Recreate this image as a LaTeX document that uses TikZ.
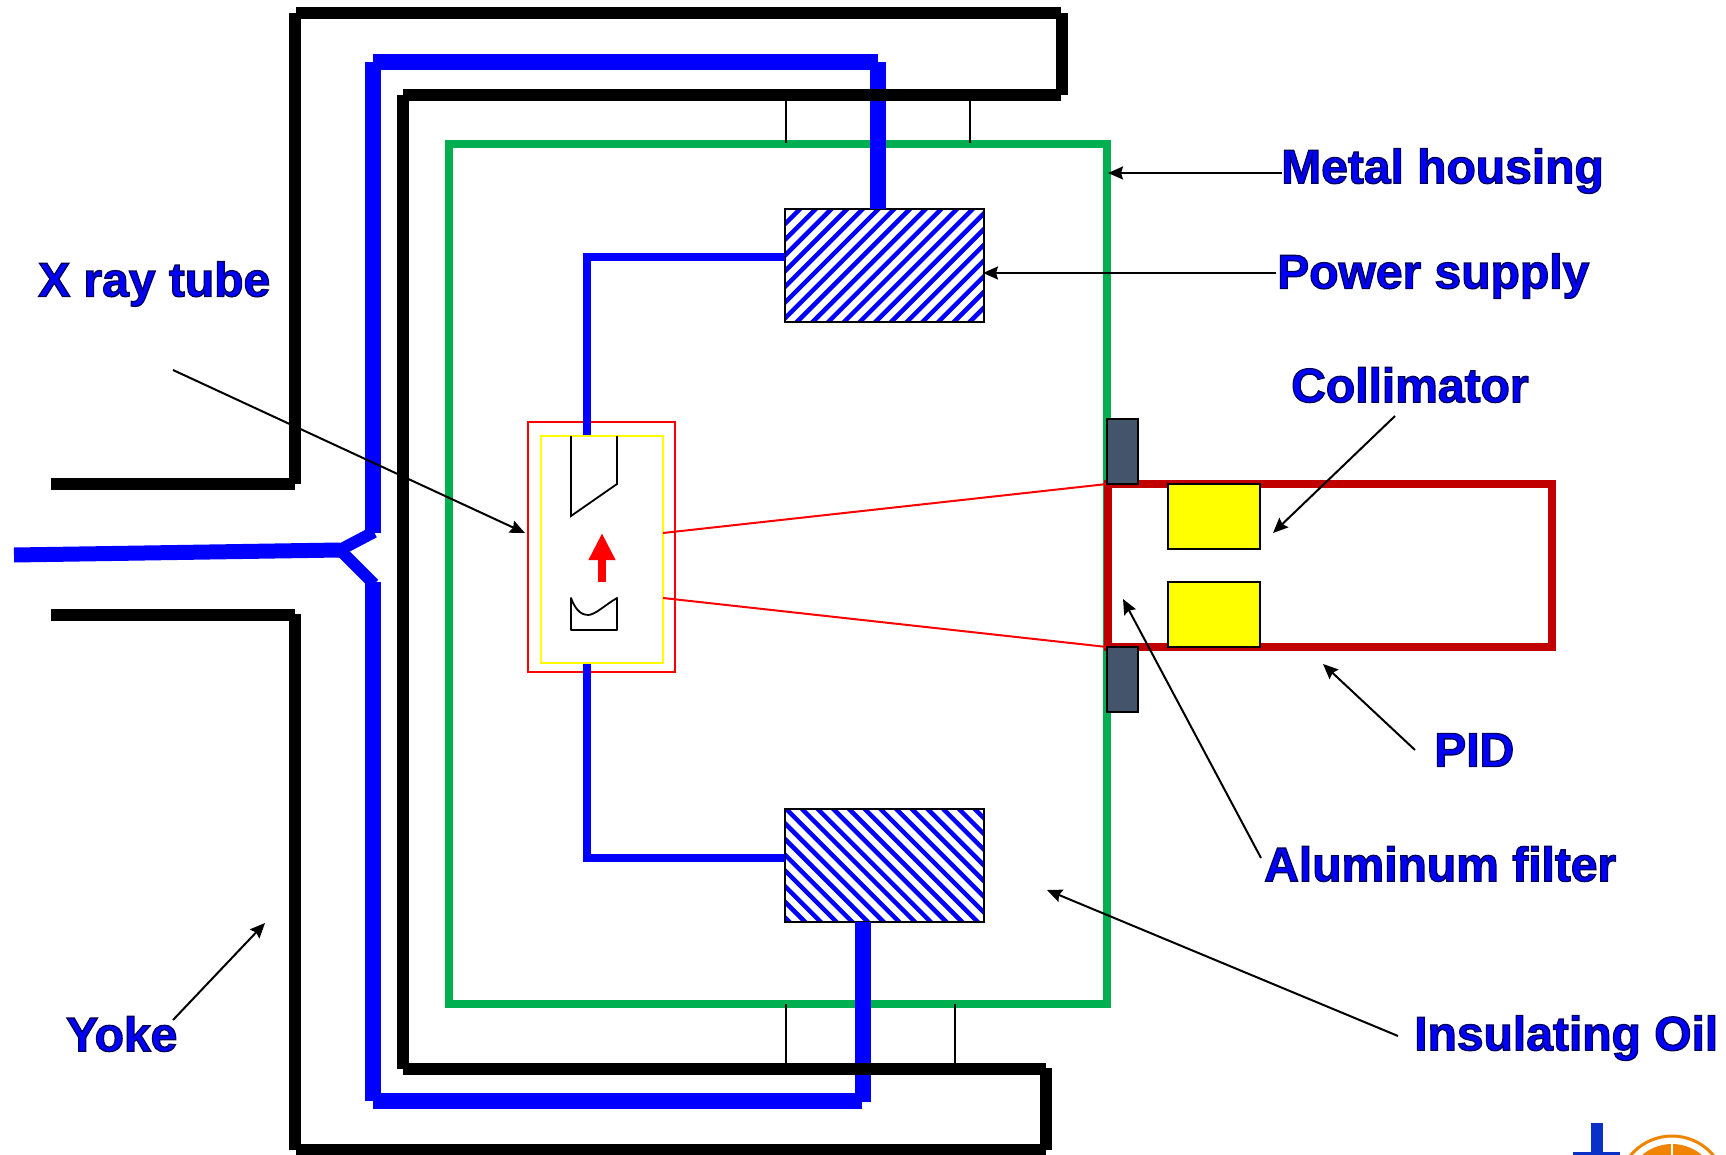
\documentclass[tikz,border=0pt]{standalone}
\usepackage{fontspec}
\setmainfont{Liberation Sans}
\usetikzlibrary{arrows.meta}
\definecolor{Wire}{HTML}{0000FF}
\definecolor{Housing}{HTML}{00B050}
\definecolor{Pid}{HTML}{C00000}
\definecolor{Slate}{HTML}{44546A}
\definecolor{Jaw}{HTML}{FFFF00}
\definecolor{Logo}{HTML}{F08300}
\definecolor{LogoBlue}{HTML}{0A30C8}
\newcommand{\outlined}[1]{\special{pdf:code q 2 Tr 1.3 w 0 0 0.35 RG}#1\special{pdf:code Q}}
\begin{document}
\begin{tikzpicture}[
  x=1pt,y=-1pt,
  yoke/.style={draw=black,line width=12pt},
  hv/.style={draw=Wire,line width=16pt},
  fork/.style={draw=Wire,line width=12pt},
  feed/.style={draw=Wire,line width=8pt},
  tag/.style={font=\fontsize{48}{48}\selectfont\bfseries,text=Wire,inner sep=0pt},
  arrow/.style={-{Stealth[length=15pt,width=13pt,inset=2pt]},line width=2pt,draw=black},
  thin/.style={line width=1.8pt,draw=black},
  beam/.style={line width=2pt,draw=red},
  psu/.style={draw=black,line width=2.5pt,minimum width=199pt,minimum height=113pt,inner sep=0pt,outer sep=0pt},
  hatchup/.style={path picture={\foreach \k in {-1,...,19}{\draw[Wire,line width=4.5pt] ({-141+\k*15.7+60},-60) -- ({-141+\k*15.7-60},60);}}},
  hatchdown/.style={path picture={\foreach \k in {-9,...,12}{\draw[Wire,line width=4.5pt] ({-26+\k*15.7-60},-60) -- ({-26+\k*15.7+60},60);}}},
  jaw/.style={draw=black,line width=2.5pt,fill=Slate,minimum width=31pt,minimum height=65pt,inner sep=0pt,outer sep=0pt},
  coll/.style={draw=black,line width=2pt,fill=Jaw,minimum width=92pt,minimum height=65pt,inner sep=0pt,outer sep=0pt}
]
\useasboundingbox (0,0) rectangle (1726,1155);

\node[draw=Housing,line width=8pt,minimum width=658pt,minimum height=860pt,inner sep=0pt] (housing) at (778,574) {};

\draw[thin] (786,100) -- (786,143);
\draw[thin] (970,100) -- (970,143);
\draw[thin] (786,1004) -- (786,1069);
\draw[thin] (955,1004) -- (955,1069);

\node[psu,fill=white,hatchup] (psutop) at (884.5,265.5) {};
\node[psu,fill=white,hatchdown] (psubot) at (884.5,865.5) {};
\coordinate (psutopin) at (878,209);
\coordinate (psubotin) at (863,922);
\coordinate (psutopleft) at (785,257);
\coordinate (psubotleft) at (785,858);

\draw[draw=Wire,line width=15pt] (14,555) -- (340,550);
\draw[fork] (336,552) -- (374,532);
\draw[fork] (338,548) -- (374,584);
\draw[hv] (373,533) -- (373,62) (373,62) -- (878,62) (878,62) -- (psutopin);
\draw[hv] (373,582) -- (373,1101) (373,1101) -- (862,1101) (863,1102) -- (psubotin);

\draw[yoke] (51,484) -- (295,484) (295,484) -- (295,13.5) (296,13.5) -- (1061,13.5) (1062,13.5) -- (1062,95) (1061,95) -- (403,95) (403,95) -- (403,1069) (403,1069) -- (1046,1069) (1046,1068) -- (1046,1150) (1046,1150) -- (296,1150) (295,1150) -- (295,614) (295,615) -- (51,615);

\node[draw=red,line width=2pt,minimum width=147pt,minimum height=250pt,inner sep=0pt] (tube) at (601.5,547) {};
\coordinate (tubetop) at (587,436);
\coordinate (tubebot) at (587,663);
\draw[feed] (tubetop) -- (587,257) -- (psutopleft);
\draw[feed] (tubebot) -- (587,858) -- (psubotleft);
\node[draw=Jaw,line width=2.5pt,minimum width=122pt,minimum height=227pt,inner sep=0pt] (envelope) at (602,549.5) {};
\draw[thin] (571,436) -- (571,516) -- (617,484) -- (617,436);
\draw[thin,line join=round] (571,598) .. controls (576,612) and (583,615) .. (588,615) .. controls (595,615) and (605,605) .. (617,598) -- (617,630) -- (571,630) -- cycle;
\coordinate (emitbot) at (602,582);
\coordinate (emittop) at (602,533);
\draw[-{Triangle[length=27pt,width=25pt]},line width=8pt,draw=red] (emitbot) -- (emittop);

\node[draw=Pid,line width=8pt,minimum width=444.5pt,minimum height=163pt,inner sep=0pt] (pid) at (1329.75,565.5) {};
\coordinate (beamtopa) at (663,533);
\coordinate (beambota) at (663,598);
\coordinate (beamtopb) at (1107,484);
\coordinate (beambotb) at (1107,647);
\draw[beam] (beamtopa) -- (beamtopb);
\draw[beam] (beambota) -- (beambotb);
\node[jaw] (jawtop) at (1122.5,451.5) {};
\node[jaw] (jawbot) at (1122.5,679.5) {};
\node[coll] (colltop) at (1214,516.5) {};
\node[coll] (collbot) at (1214,614) {};

\node[tag,anchor=west] (metal) at (1281,171) {\outlined{Metal housing}};
\node[tag,anchor=west] (power) at (1277,276) {\outlined{Power supply}};
\node[tag,anchor=west] (collim) at (1291,385) {\outlined{Collimator}};
\node[tag,anchor=west] (xray) at (38,284) {\outlined{X ray tube}};
\node[tag,anchor=west] (pidtag) at (1434,750) {\outlined{PID}};
\node[tag,anchor=west] (alu) at (1264,864) {\outlined{Aluminum filter}};
\node[tag,anchor=west] (oil) at (1414,1038) {\outlined{Insulating Oil}};
\node[tag,anchor=west] (yoketag) at (66,1034) {\outlined{Yoke}};

\coordinate (metalstart) at (1282,173);
\coordinate (metalend) at (1108,173);
\coordinate (powerstart) at (1276,273);
\coordinate (powerend) at (983,273);
\coordinate (xraystart) at (173,370);
\coordinate (xrayend) at (525,533);
\coordinate (collstart) at (1395,416);
\coordinate (collend) at (1273,533);
\coordinate (pidstart) at (1415,750);
\coordinate (pidend) at (1323,664);
\coordinate (alustart) at (1261,858);
\coordinate (aluend) at (1123,599);
\coordinate (oilstart) at (1398,1036);
\coordinate (oilend) at (1047,890);
\coordinate (yokestart) at (173,1020);
\coordinate (yokeend) at (265,923);
\draw[arrow] (metalstart) -- (metalend);
\draw[arrow] (powerstart) -- (powerend);
\draw[arrow] (xraystart) -- (xrayend);
\draw[arrow] (collstart) -- (collend);
\draw[arrow] (pidstart) -- (pidend);
\draw[arrow] (alustart) -- (aluend);
\draw[arrow] (oilstart) -- (oilend);
\draw[arrow] (yokestart) -- (yokeend);

\fill[LogoBlue] (1591,1123) rectangle (1603,1152);
\fill[LogoBlue] (1573,1152) rectangle (1620,1160);
\draw[Logo,line width=3pt] (1672,1190) circle (54);
\fill[Logo] (1672,1190) circle (46);
\draw[white,line width=2pt] (1672,1140) -- (1672,1160);
\end{tikzpicture}
\end{document}
